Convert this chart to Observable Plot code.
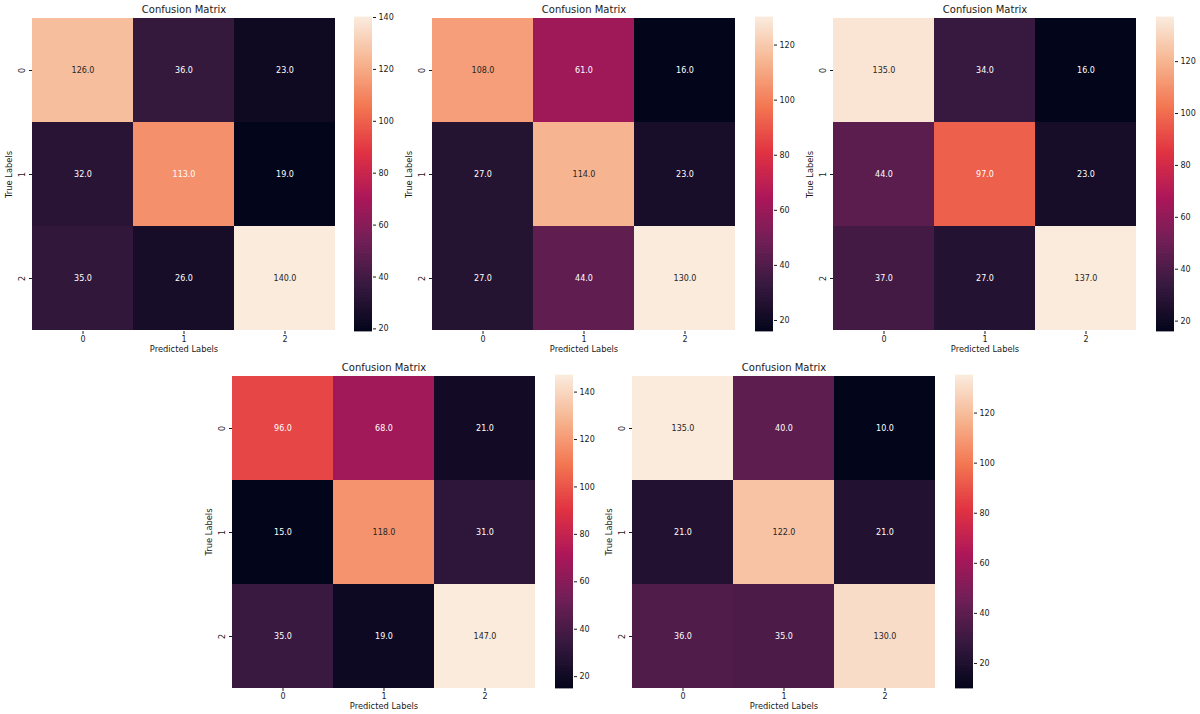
<!DOCTYPE html>
<html>
<head>
<meta charset="utf-8">
<script src="https://cdn.jsdelivr.net/npm/d3@7"></script>
<script src="https://cdn.jsdelivr.net/npm/@observablehq/plot@0.6"></script>
<style>
  html, body { margin: 0; padding: 0; background: #fff; }
  #root { position: relative; width: 1200px; height: 714px; background: #fff; overflow: hidden; }
  #root svg { position: absolute; overflow: visible; }
</style>
</head>
<body>
<div id="root"></div>
<script>
// ---- data ----
const classes = ["0", "1", "2"];
const title = "Confusion Matrix";
const xLabel = "Predicted Labels";
const yLabel = "True Labels";

const cm1 = [[126, 36, 23], [32, 113, 19], [35, 26, 140]];
const cm2 = [[108, 61, 16], [27, 114, 23], [27, 44, 130]];
const cm3 = [[135, 34, 16], [44, 97, 23], [37, 27, 137]];
const cm4 = [[96, 68, 21], [15, 118, 31], [35, 19, 147]];
const cm5 = [[135, 40, 10], [21, 122, 21], [36, 35, 130]];

const cbTicks1 = [20, 40, 60, 80, 100, 120, 140];
const cbTicks2 = [20, 40, 60, 80, 100, 120];
const cbTicks3 = [20, 40, 60, 80, 100, 120];
const cbTicks4 = [20, 40, 60, 80, 100, 120, 140];
const cbTicks5 = [20, 40, 60, 80, 100, 120];

// ---- style / layout ----
const rocketStops = ["#03051a", "#35193e", "#701f57", "#ad1759", "#e13342", "#f37651", "#f6b48f", "#faebdd"];
const rocket = d3.piecewise(d3.interpolateRgb, rocketStops);
const FONT = "DejaVu Sans, sans-serif";
const INK = "#1a1a1a";

const panels = [
  {cm: cm1, ticks: cbTicks1, fx: 32, fy: 17, fh: 314, cbx: 354},
  {cm: cm2, ticks: cbTicks2, fx: 432, fy: 17, fh: 314, cbx: 755},
  {cm: cm3, ticks: cbTicks3, fx: 833, fy: 17, fh: 314, cbx: 1156},
  {cm: cm4, ticks: cbTicks4, fx: 232, fy: 375, fh: 313, cbx: 555},
  {cm: cm5, ticks: cbTicks5, fx: 632, fy: 375, fh: 313, cbx: 955}
];
const FW = 303, CBW = 18;

function luminance(c) {
  const {r, g, b} = d3.rgb(c);
  const lin = v => { v /= 255; return v <= 0.03928 ? v / 12.92 : Math.pow((v + 0.055) / 1.055, 2.4); };
  return 0.2126 * lin(r) + 0.7152 * lin(g) + 0.0722 * lin(b);
}

const root = document.getElementById("root");

panels.forEach(p => {
  const ext = d3.extent(p.cm.flat());
  const norm = v => (v - ext[0]) / (ext[1] - ext[0]);
  const isLight = d => luminance(rocket(norm(d.v))) > 0.408;
  const rows = [];
  p.cm.forEach((r, i) => r.forEach((v, j) => rows.push({t: classes[i], p: classes[j], v})));

  const ML = 40, MT = 22, MB = 34, MR = 4;
  const colorScale = {type: "linear", domain: ext, interpolate: rocket};

  const hm = Plot.plot({
    width: ML + FW + MR, height: MT + p.fh + MB,
    marginLeft: ML, marginTop: MT, marginBottom: MB, marginRight: MR,
    style: {fontFamily: FONT, background: "transparent", color: INK, overflow: "visible"},
    x: {type: "band", domain: classes, padding: 0, label: null},
    y: {type: "band", domain: classes, padding: 0, label: null},
    color: colorScale,
    marks: [
      Plot.cell(rows, {x: "p", y: "t", fill: "v"}),
      Plot.text(rows, {filter: isLight, x: "p", y: "t", text: d => d.v.toFixed(1), fill: "#262626", fontSize: 8}),
      Plot.text(rows, {filter: d => !isLight(d), x: "p", y: "t", text: d => d.v.toFixed(1), fill: "#ffffff", fontSize: 8}),
      Plot.axisX({tickSize: 3, tickPadding: 1.5, fontSize: 8, label: null}),
      Plot.axisY({tickSize: 3, tickRotate: -90, tickPadding: 5, fontSize: 8, label: null}),
      Plot.text([title], {frameAnchor: "top", lineAnchor: "middle", textAnchor: "middle", dy: -8, fontSize: 10, fill: INK}),
      Plot.text([xLabel], {frameAnchor: "bottom", lineAnchor: "middle", textAnchor: "middle", dy: 18, fontSize: 8.3, fill: INK}),
      Plot.text([yLabel], {frameAnchor: "left", lineAnchor: "middle", textAnchor: "middle", dx: -23, rotate: -90, fontSize: 8.3, fill: INK})
    ]
  });
  hm.style.left = (p.fx - ML) + "px";
  hm.style.top = (p.fy - MT) + "px";
  root.appendChild(hm);

  // colorbar gradient strips (rendering of the continuous scale)
  const N = 200;
  const strips = d3.range(N).map(i => ({
    a: ext[0] + (ext[1] - ext[0]) * i / N,
    b: ext[0] + (ext[1] - ext[0]) * (i + 1) / N,
    m: ext[0] + (ext[1] - ext[0]) * (i + 0.5) / N
  }));
  const CMT = 5, CMB = 5, CMR = 34;
  const cb = Plot.plot({
    width: CBW + CMR, height: CMT + p.fh + CMB,
    marginLeft: 0, marginRight: CMR, marginTop: CMT, marginBottom: CMB,
    style: {fontFamily: FONT, background: "transparent", color: INK, overflow: "visible"},
    x: {domain: [0, 1], axis: null},
    y: {domain: ext, label: null},
    color: colorScale,
    marks: [
      Plot.rect(strips, {x1: 0, x2: 1, y1: "a", y2: "b", fill: "m", insetTop: -0.4, insetBottom: -0.4}),
      Plot.axisY({anchor: "right", ticks: p.ticks, tickSize: 3, tickPadding: 3, fontSize: 8, label: null})
    ]
  });
  cb.style.left = p.cbx + "px";
  cb.style.top = (p.fy - CMT) + "px";
  root.appendChild(cb);
});
</script>
</body>
</html>
